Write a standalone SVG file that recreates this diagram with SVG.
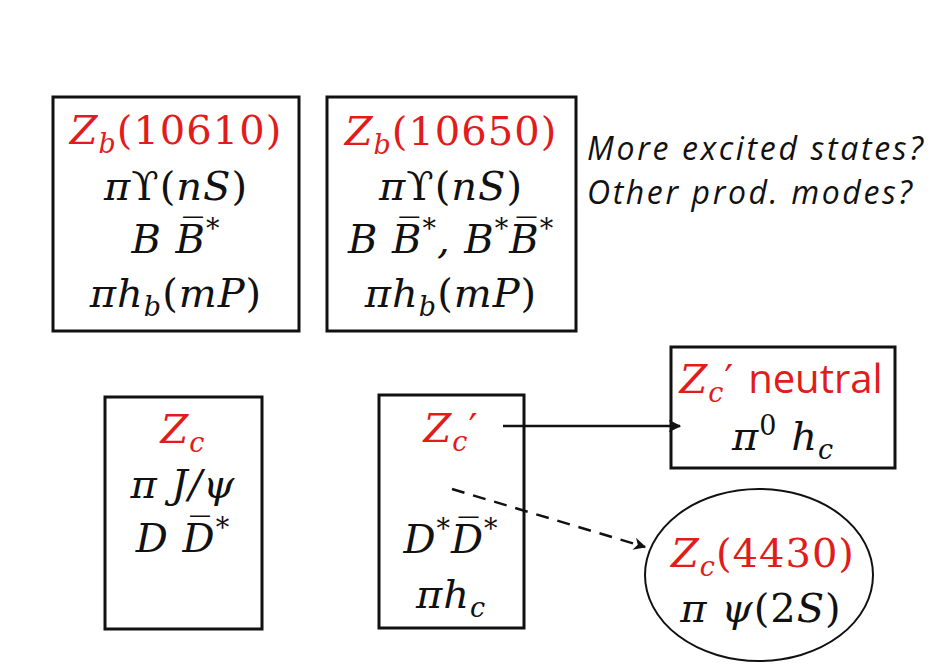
<svg xmlns="http://www.w3.org/2000/svg" width="930" height="667" viewBox="0 0 930 667">
<defs>
<style>
.box{fill:#fff;stroke:#111;stroke-width:3}
.ell{fill:#fff;stroke:#111;stroke-width:2}
.m{font-family:"DejaVu Serif","Liberation Serif",serif;font-size:40px;letter-spacing:1px;fill:#111;text-anchor:middle}
.i{font-style:italic}
.r{fill:#e21b1b}
.s{font-size:27px}
.sans{font-family:"Open Sans","Noto Sans",sans-serif;letter-spacing:0}
.q{font-family:"Open Sans","Noto Sans",sans-serif;font-style:italic;font-size:32px;fill:#111}
.ln{stroke:#111;stroke-width:2.5;fill:none}
</style>
<marker id="ah" viewBox="0 0 10 10" refX="9" refY="5" markerWidth="5" markerHeight="5" orient="auto" markerUnits="strokeWidth">
<path d="M0,0 L10,5 L0,10 L3,5 Z" fill="#111"/>
</marker>
</defs>
<rect width="930" height="667" fill="#fff"/>

<g id="zb10610">
<rect class="box" x="53" y="97" width="246" height="234"/>
<text class="m" x="176" y="144"><tspan class="i r">Z</tspan><tspan class="i r s" dy="9">b</tspan><tspan class="r" dy="-9">(10610)</tspan></text>
<text class="m" x="176" y="200"><tspan class="i">π</tspan>ϒ(<tspan class="i">nS</tspan>)</text>
<text class="m i" x="176" y="253">B B̅<tspan class="s" dy="-15">*</tspan></text>
<text class="m" x="176" y="307"><tspan class="i">πh</tspan><tspan class="i s" dy="9">b</tspan><tspan dy="-9">(</tspan><tspan class="i">mP</tspan>)</text>
</g>

<g id="zb10650">
<rect class="box" x="327" y="97" width="249" height="234"/>
<text class="m" x="451" y="145"><tspan class="i r">Z</tspan><tspan class="i r s" dy="9">b</tspan><tspan class="r" dy="-9">(10650)</tspan></text>
<text class="m" x="451" y="200"><tspan class="i">π</tspan>ϒ(<tspan class="i">nS</tspan>)</text>
<text class="m i" x="451" y="253">B B̅<tspan class="s" dy="-15">*</tspan><tspan dy="15">, B</tspan><tspan class="s" dy="-15">*</tspan><tspan dy="15">B̅</tspan><tspan class="s" dy="-15">*</tspan></text>
<text class="m" x="451" y="307"><tspan class="i">πh</tspan><tspan class="i s" dy="9">b</tspan><tspan dy="-9">(</tspan><tspan class="i">mP</tspan>)</text>
</g>

<g id="question">
<text class="q" x="587" y="160" textLength="336" lengthAdjust="spacing">More excited states?</text>
<text class="q" x="587" y="204" textLength="325" lengthAdjust="spacing">Other prod. modes?</text>
</g>

<g id="zc">
<rect class="box" x="105" y="397" width="157" height="232"/>
<text class="m" x="183" y="443"><tspan class="i r">Z</tspan><tspan class="i r s" dy="9">c</tspan></text>
<text class="m i" x="183" y="498">π J/ψ</text>
<text class="m i" x="183" y="552">D D̅<tspan class="s" dy="-15">*</tspan></text>
</g>

<g id="zcprime">
<rect class="box" x="379" y="395" width="145" height="233"/>
<text class="m" x="451" y="442"><tspan class="i r">Z</tspan><tspan class="i r s" dy="9">c</tspan><tspan class="r" dy="-9">′</tspan></text>
<text class="m i" x="451" y="553">D<tspan class="s" dy="-15">*</tspan><tspan dy="15">D̅</tspan><tspan class="s" dy="-15">*</tspan></text>
<text class="m" x="451" y="608"><tspan class="i">πh</tspan><tspan class="i s" dy="9">c</tspan></text>
</g>

<g id="zcneutral">
<rect class="box" x="671" y="347" width="224" height="121"/>
<text class="m" x="781" y="393"><tspan class="i r">Z</tspan><tspan class="i r s" dy="9">c</tspan><tspan class="r" dy="-9">′ </tspan><tspan class="r sans">neutral</tspan></text>
<text class="m" x="783" y="450"><tspan class="i">π</tspan><tspan class="s" dy="-15">0</tspan><tspan class="i" dy="15"> h</tspan><tspan class="i s" dy="9">c</tspan></text>
</g>

<g id="zc4430">
<ellipse class="ell" cx="759" cy="575" rx="114" ry="86"/>
<text class="m" x="763" y="567"><tspan class="i r">Z</tspan><tspan class="i r s" dy="9">c</tspan><tspan class="r" dy="-9">(4430)</tspan></text>
<text class="m" x="761" y="622"><tspan class="i">π ψ</tspan>(2<tspan class="i">S</tspan>)</text>
</g>

<g id="connectors">
<line class="ln" x1="503" y1="426" x2="680" y2="426" marker-end="url(#ah)"/>
<line class="ln" x1="452" y1="489" x2="645" y2="547" stroke-dasharray="13,9" marker-end="url(#ah)"/>
</g>
</svg>
